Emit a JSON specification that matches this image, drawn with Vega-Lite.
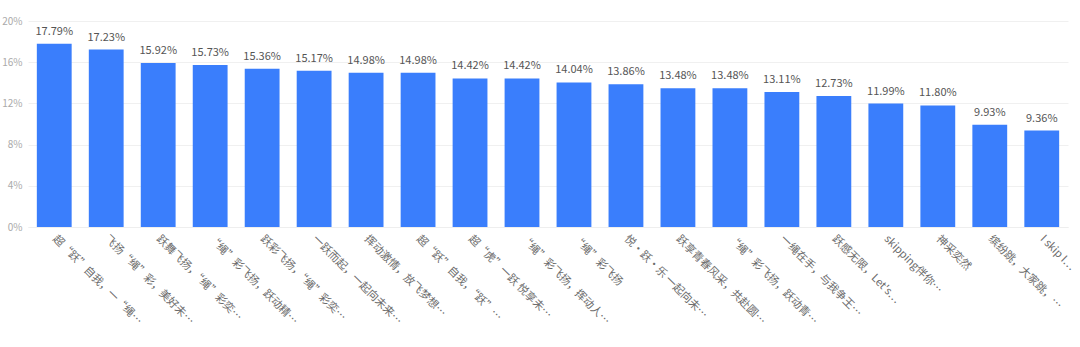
{
  "$schema": "https://vega.github.io/schema/vega-lite/v6.json",
  "autosize": "none",
  "width": 1040,
  "height": 206,
  "padding": {"left": 28, "top": 21, "right": 12, "bottom": 120},
  "background": "white",
  "config": {
    "font": "Noto Sans CJK SC",
    "view": {"stroke": null}
  },
  "data": {
    "values": [
      {"slogan": "超“跃”自我，一“绳…", "rate": 0.1779},
      {"slogan": "飞扬“绳”彩，美好未…", "rate": 0.1723},
      {"slogan": "跃舞飞扬，“绳”彩奕…", "rate": 0.1592},
      {"slogan": "“绳”彩飞扬，跃动精…", "rate": 0.1573},
      {"slogan": "跃彩飞扬，“绳”彩奕…", "rate": 0.1536},
      {"slogan": "一跃而起，一起向未来…", "rate": 0.1517},
      {"slogan": "挥动激情，放飞梦想…", "rate": 0.1498},
      {"slogan": "超“跃”自我，“跃”…", "rate": 0.1498},
      {"slogan": "超“虎”一跃 悦享未…", "rate": 0.1442},
      {"slogan": "“绳”彩飞扬，挥动人…", "rate": 0.1442},
      {"slogan": "“绳”彩飞扬", "rate": 0.1404},
      {"slogan": "悦·跃·乐 一起向未…", "rate": 0.1386},
      {"slogan": "跃享青春风采，共赴圆…", "rate": 0.1348},
      {"slogan": "“绳”彩飞扬，跃动青…", "rate": 0.1348},
      {"slogan": "一绳在手，与我争王…", "rate": 0.1311},
      {"slogan": "跃感无限，Let's…", "rate": 0.1273},
      {"slogan": "skipping伴你…", "rate": 0.1199},
      {"slogan": "神采奕然", "rate": 0.118},
      {"slogan": "缤纷跳，大家跳，…", "rate": 0.0993},
      {"slogan": "I skip I…", "rate": 0.0936}
    ]
  },
  "encoding": {
    "x": {
      "field": "slogan",
      "type": "nominal",
      "sort": null,
      "scale": {"paddingInner": 0.33, "paddingOuter": 0.17},
      "axis": {
        "title": null,
        "labelAngle": 45,
        "labelAlign": "left",
        "labelBaseline": "middle",
        "labelPadding": 10,
        "labelFontSize": 11,
        "labelColor": "#6b6b6b",
        "labelLimit": 200,
        "ticks": false,
        "domainColor": "#eeeeee",
        "grid": false
      }
    },
    "y": {
      "field": "rate",
      "type": "quantitative",
      "scale": {"domain": [0, 0.2]},
      "axis": {
        "title": null,
        "values": [0, 0.04, 0.08, 0.12, 0.16, 0.2],
        "format": ".0%",
        "labelFontSize": 10,
        "labelColor": "#aaaaaa",
        "labelPadding": 6,
        "domain": false,
        "ticks": false,
        "gridColor": "#f0f0f0"
      }
    }
  },
  "layer": [
    {
      "mark": {"type": "bar", "color": "#3a7efc"}
    },
    {
      "mark": {"type": "text", "dy": -12, "fontSize": 11, "color": "#555555"},
      "encoding": {
        "text": {"field": "rate", "type": "quantitative", "format": ".2%"}
      }
    }
  ]
}
